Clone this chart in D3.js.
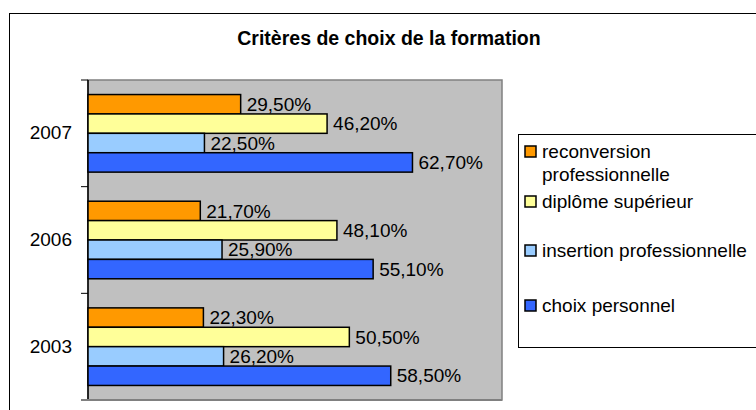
<!DOCTYPE html>
<html>
<head>
<meta charset="utf-8">
<script src="https://cdn.jsdelivr.net/npm/d3@7"></script>
<style>
  body { margin: 0; background: #fff; }
  text { font-family: "Liberation Sans", Arial, sans-serif; }
</style>
</head>
<body>
<script>
const years = ["2007", "2006", "2003"];
const series = ["reconversion professionnelle", "diplôme supérieur", "insertion professionnelle", "choix personnel"];
const colors = ["#FF9900", "#FFFF99", "#99CCFF", "#3366FF"];
const values = [
  [29.5, 46.2, 22.5, 62.7],
  [21.7, 48.1, 25.9, 55.1],
  [22.3, 50.5, 26.2, 58.5]
];
const legendLines = [["reconversion", "professionnelle"], ["diplôme supérieur"], ["insertion professionnelle"], ["choix personnel"]];

const width = 756, height = 410;
const plot = { left: 88, top: 80, right: 502, bottom: 400 };

const svg = d3.select('body').append('svg')
  .attr('width', width)
  .attr('height', height);

// outer chart frame
svg.append('rect')
  .attr('x', 9.5).attr('y', 13.5)
  .attr('width', 800).attr('height', 500)
  .attr('fill', '#fff').attr('stroke', '#000').attr('stroke-width', 1);

svg.append('text')
  .attr('x', 389).attr('y', 45)
  .attr('text-anchor', 'middle')
  .attr('font-size', 19.5).attr('font-weight', 'bold')
  .text('Critères de choix de la formation');

const x = d3.scaleLinear().domain([0, 80]).range([plot.left, plot.right]);
const y = d3.scaleBand().domain(years).range([plot.top, plot.bottom]).paddingInner(0).paddingOuter(0);
const inner = d3.scaleBand().domain(d3.range(series.length)).range([0, y.bandwidth()]).paddingOuter(0.75);

// plot area
svg.append('rect')
  .attr('x', plot.left).attr('y', plot.top)
  .attr('width', plot.right - plot.left).attr('height', plot.bottom - plot.top)
  .attr('fill', '#C0C0C0').attr('stroke', '#808080').attr('stroke-width', 1.5);

// category axis
const yAxis = svg.append('g')
  .attr('transform', `translate(${plot.left},0)`)
  .call(d3.axisLeft(y).tickSize(0).tickPadding(16));
yAxis.select('.domain').remove();
yAxis.selectAll('text').attr('font-size', 19).attr('fill', '#000')
  .style('font-family', '"Liberation Sans", Arial, sans-serif');

// tick marks between categories
const bounds = years.map(d => y(d)).concat([plot.bottom]);
svg.append('g').selectAll('line').data(bounds).enter().append('line')
  .attr('x1', plot.left - 7).attr('x2', plot.left)
  .attr('y1', d => d).attr('y2', d => d)
  .attr('stroke', '#000').attr('stroke-width', 1);
svg.append('line')
  .attr('x1', plot.left).attr('x2', plot.left)
  .attr('y1', plot.top).attr('y2', plot.bottom)
  .attr('stroke', '#000').attr('stroke-width', 1.5);
svg.append('line')
  .attr('x1', plot.left - 7).attr('x2', plot.right)
  .attr('y1', plot.bottom).attr('y2', plot.bottom)
  .attr('stroke', '#808080').attr('stroke-width', 2);

// bars
const groups = svg.append('g').selectAll('g').data(years).enter().append('g')
  .attr('transform', d => `translate(0,${y(d)})`);

groups.selectAll('rect')
  .data((d, i) => values[i].map((v, j) => ({ v, j })))
  .enter().append('rect')
  .attr('x', x(0))
  .attr('y', d => inner(d.j))
  .attr('width', d => x(d.v) - x(0))
  .attr('height', inner.bandwidth())
  .attr('fill', d => colors[d.j])
  .attr('stroke', '#000').attr('stroke-width', 1.5);

groups.selectAll('text')
  .data((d, i) => values[i].map((v, j) => ({ v, j })))
  .enter().append('text')
  .attr('x', d => x(d.v) + 6)
  .attr('y', d => inner(d.j) + inner.bandwidth() / 2)
  .attr('dy', '0.35em')
  .attr('font-size', 19)
  .text(d => d.v.toFixed(2).replace('.', ',') + '%');

// legend
const legend = svg.append('g');
legend.append('rect')
  .attr('x', 518.5).attr('y', 134.5)
  .attr('width', 300).attr('height', 213)
  .attr('fill', '#fff').attr('stroke', '#000').attr('stroke-width', 1);

const legendY = [146, 196, 245, 300];
const item = legend.selectAll('g.item').data(series).enter().append('g').attr('class', 'item')
  .attr('transform', (d, i) => `translate(525,${legendY[i]})`);
item.append('rect')
  .attr('width', 11).attr('height', 11)
  .attr('fill', (d, i) => colors[i])
  .attr('stroke', '#000').attr('stroke-width', 1.5);
item.append('text')
  .attr('x', 17).attr('y', 12)
  .attr('font-size', 19)
  .selectAll('tspan').data((d, i) => legendLines[i]).enter().append('tspan')
  .attr('x', 17).attr('dy', (d, k) => k === 0 ? 0 : 23)
  .text(d => d);
</script>
</body>
</html>
